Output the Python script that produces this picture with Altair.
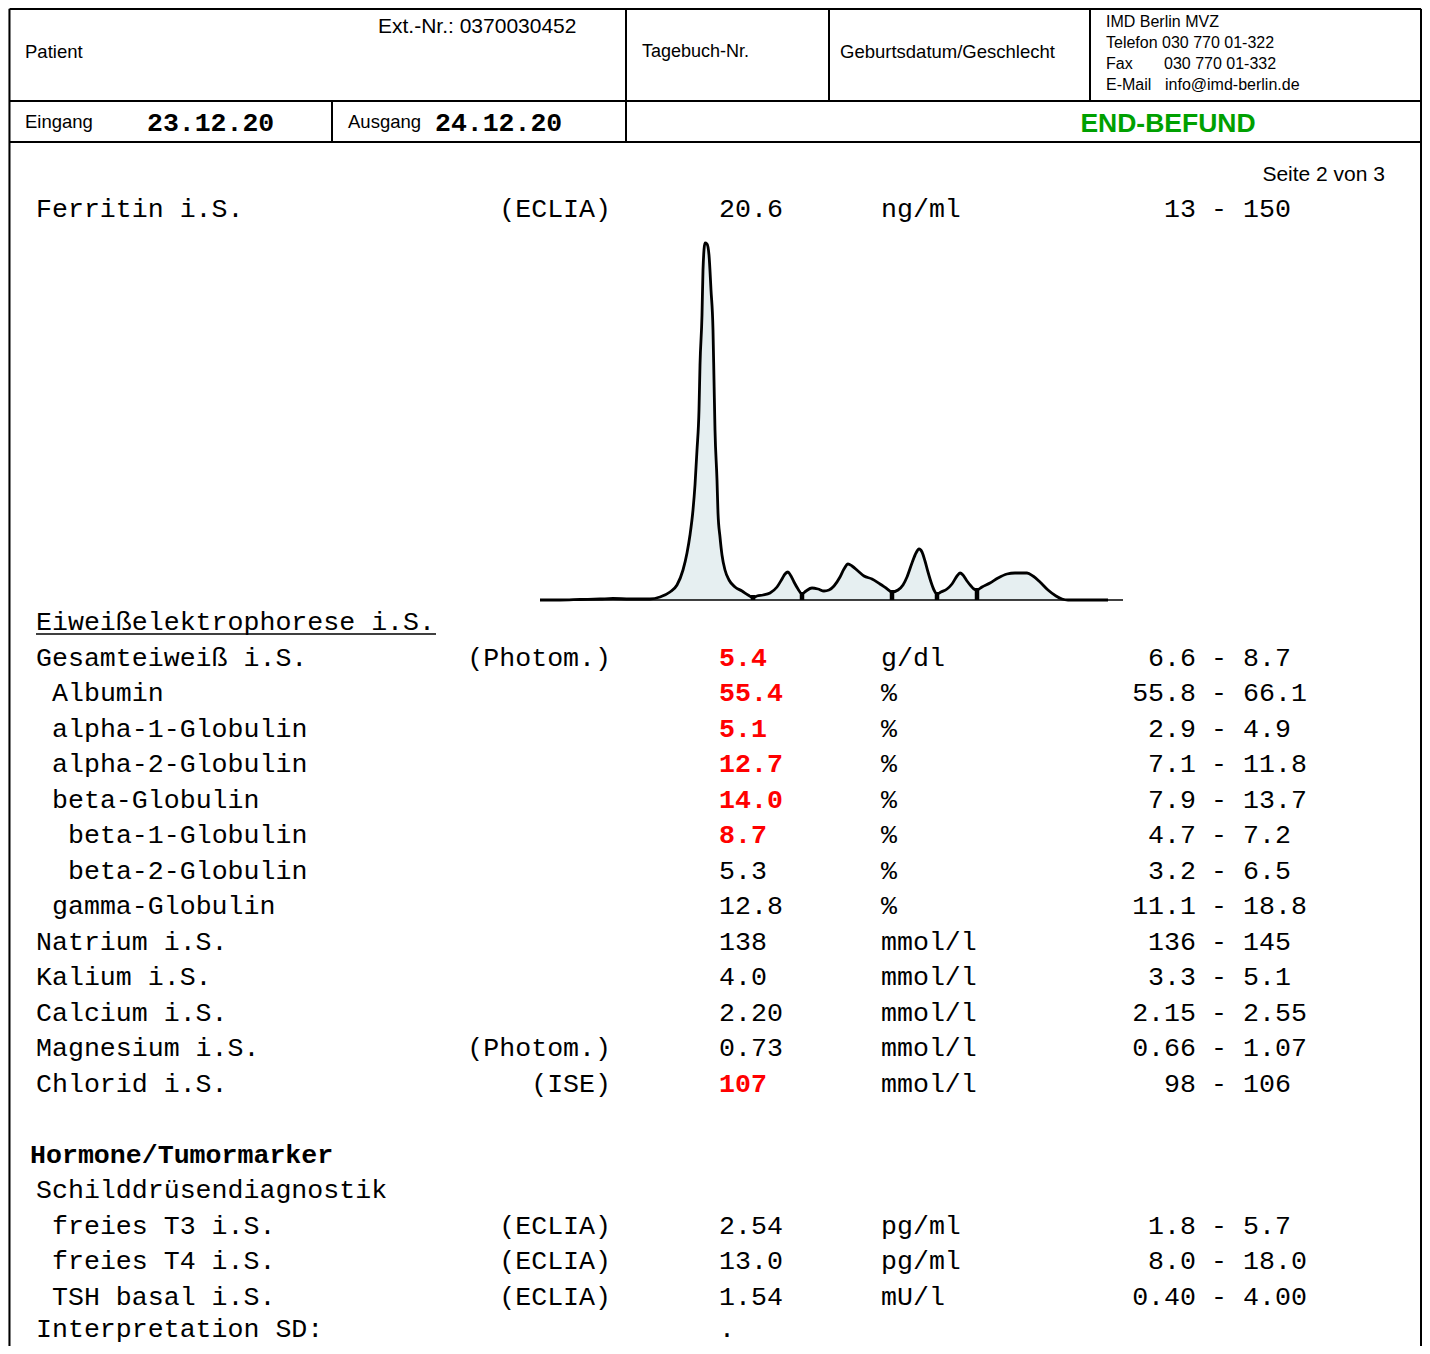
import altair as alt
import pandas as pd

# ------------------------------------------------------------------ data
header_labels = ["Patient", "Ext.-Nr.: 0370030452", "Tagebuch-Nr.", "Geburtsdatum/Geschlecht"]
lab_labels = ["IMD Berlin MVZ", "Telefon 030 770 01-322", "Fax", "030 770 01-332",
              "E-Mail", "info@imd-berlin.de"]
date_labels = ["Eingang", "Ausgang"]
date_values = ["23.12.20", "24.12.20"]
status_label = "END-BEFUND"
page_label = "Seite 2 von 3"

ferritin = {"name": "Ferritin i.S.", "method": "(ECLIA)", "value": "20.6",
            "unit": "ng/ml", "lo": "13", "hi": "150", "flag": False}

section_title = "Eiweißelektrophorese i.S."
names = ["Gesamteiweiß i.S.", "Albumin", "alpha-1-Globulin", "alpha-2-Globulin",
         "beta-Globulin", "beta-1-Globulin", "beta-2-Globulin", "gamma-Globulin",
         "Natrium i.S.", "Kalium i.S.", "Calcium i.S.", "Magnesium i.S.", "Chlorid i.S.",
         "Schilddrüsendiagnostik", "freies T3 i.S.", "freies T4 i.S.", "TSH basal i.S.",
         "Interpretation SD:"]
levels = [0, 1, 1, 1, 1, 2, 2, 1, 0, 0, 0, 0, 0, 0, 1, 1, 1, 0]
methods = ["(Photom.)", "", "", "", "", "", "", "", "", "", "", "(Photom.)", "(ISE)",
           "", "(ECLIA)", "(ECLIA)", "(ECLIA)", ""]
values = ["5.4", "55.4", "5.1", "12.7", "14.0", "8.7", "5.3", "12.8", "138", "4.0",
          "2.20", "0.73", "107", "", "2.54", "13.0", "1.54", "."]
units = ["g/dl", "%", "%", "%", "%", "%", "%", "%", "mmol/l", "mmol/l", "mmol/l",
         "mmol/l", "mmol/l", "", "pg/ml", "pg/ml", "mU/l", ""]
ref_lo = ["6.6", "55.8", "2.9", "7.1", "7.9", "4.7", "3.2", "11.1", "136", "3.3",
          "2.15", "0.66", "98", "", "1.8", "8.0", "0.40", ""]
ref_hi = ["8.7", "66.1", "4.9", "11.8", "13.7", "7.2", "6.5", "18.8", "145", "5.1",
          "2.55", "1.07", "106", "", "5.7", "18.0", "4.00", ""]
flags = [True, True, True, True, True, True, False, False, False, False, False,
         False, True, False, False, False, False, False]
group_title = "Hormone/Tumormarker"

# electrophoresis densitogram: migration position (px from start) and height
curve_pos = [0, 20, 40, 60, 73, 90, 110, 120, 130, 137, 143, 147, 150, 153, 155, 157,
             159, 160, 162, 163, 165, 167, 169, 171, 173, 174, 175, 177, 178, 180, 182,
             185, 189, 195, 202, 208, 213, 217, 223, 230, 237, 242, 245, 248, 251, 254,
             258, 262, 266, 272, 278, 284, 289, 294, 300, 304, 308, 312, 318, 324, 332,
             340, 346, 352, 358, 363, 367, 372, 376, 379, 382, 385, 388, 391, 394, 397,
             401, 407, 412, 417, 420, 423, 427, 431, 434, 437, 442, 450, 458, 467, 475,
             487, 493, 500, 508, 516, 522, 528, 550, 568]
curve_h = [0, 0, 0.5, 1, 1.5, 1, 1, 3, 8, 15, 30, 47, 65, 90, 115, 150, 190, 235, 285,
           330, 357, 356, 345, 310, 270, 220, 170, 120, 87, 63, 45, 30, 20, 13, 9, 5,
           2.5, 4, 5, 7, 13, 21, 26, 28, 24, 18, 11, 6, 9, 12, 11, 9, 10, 14, 23, 31,
           36, 34, 29, 24, 21, 16, 12, 8, 10, 15, 23, 37, 47, 51, 48, 39, 28, 18, 10,
           6, 8, 11, 16, 24, 27, 25, 19, 14, 11, 10, 13, 17, 22, 26, 27, 27, 24, 18,
           10, 4, 1, 0, 0, 0]
sep_pos = [213, 262, 352, 397, 437]
sep_h = [3, 6, 8, 6, 10]

# ------------------------------------------------------------------ layout
W, H = 1414, 1338
XS = alt.Scale(domain=[8, 8 + W], nice=False, zero=False)
YS = alt.Scale(domain=[8, 8 + H], nice=False, zero=False, reverse=True)
MONO = "Liberation Mono"
SANS = "Liberation Sans"
CHAR = 16
X_NAME, X_METHOD_R, X_VALUE, X_UNIT = 36, 611, 719, 881
X_LO_R, X_DASH, X_HI = 1196, 1219, 1243
ROW0_Y, ROW_DY = 622, 35.5
FERR_Y = 209
Y_MAX = 1329
row_index = list(range(1, 14)) + list(range(16, 21))

X = lambda f="x": alt.X(f"{f}:Q", scale=XS, axis=None)
Y = lambda f="y": alt.Y(f"{f}:Q", scale=YS, axis=None)


def texts(df, font, weight="normal", color="black", align="left", size=26.6):
    return alt.Chart(df).mark_text(font=font, fontWeight=weight, color=color, align=align,
                                   baseline="middle", fontSize=size).encode(
        x=X(), y=Y(), text="t:N")


def sized_texts(df, font, weight="normal", color="black", align="left"):
    return alt.Chart(df).mark_text(font=font, fontWeight=weight, color=color, align=align,
                                   baseline="middle").encode(
        x=X(), y=Y(), text="t:N", size=alt.Size("s:Q", scale=None, legend=None))


# header text
hdr = pd.DataFrame({
    "t": header_labels + lab_labels + date_labels,
    "x": [25, 378, 642, 840, 1106, 1106, 1106, 1164, 1106, 1165, 25, 348],
    "y": [52, 27, 52, 52, 22, 43, 64, 64, 85, 85, 122, 122],
    "s": [18.5, 21, 18, 18.5, 16, 16, 16, 16, 16, 16, 18.5, 18.5],
})
dates = pd.DataFrame({"t": date_values, "x": [147, 435], "y": [123, 123]})
status = pd.DataFrame({"t": [status_label], "x": [1168], "y": [124]})
page = pd.DataFrame({"t": [page_label], "x": [1385], "y": [175]})

# table rows
all_names = [ferritin["name"]] + names
all_levels = [0] + levels
all_methods = [ferritin["method"]] + methods
all_values = [ferritin["value"]] + values
all_units = [ferritin["unit"]] + units
all_lo = [ferritin["lo"]] + ref_lo
all_hi = [ferritin["hi"]] + ref_hi
all_flags = [ferritin["flag"]] + flags
all_y = [FERR_Y] + [min(ROW0_Y + i * ROW_DY, Y_MAX) for i in row_index]

rows = pd.DataFrame({"name": all_names, "lvl": all_levels, "method": all_methods,
                     "value": all_values, "unit": all_units, "lo": all_lo,
                     "hi": all_hi, "flag": all_flags, "y": all_y})

name_df = pd.DataFrame({"t": rows["name"], "x": X_NAME + CHAR * rows["lvl"], "y": rows["y"]})
m = rows[rows["method"] != ""]
method_df = pd.DataFrame({"t": m["method"], "x": X_METHOD_R, "y": m["y"]})
v = rows[rows["value"] != ""]
val_norm = pd.DataFrame({"t": v[~v["flag"]]["value"], "x": X_VALUE, "y": v[~v["flag"]]["y"]})
val_flag = pd.DataFrame({"t": v[v["flag"]]["value"], "x": X_VALUE, "y": v[v["flag"]]["y"]})
u = rows[rows["unit"] != ""]
unit_df = pd.DataFrame({"t": u["unit"], "x": X_UNIT, "y": u["y"]})
r = rows[rows["lo"] != ""]
lo_df = pd.DataFrame({"t": r["lo"], "x": X_LO_R, "y": r["y"]})
dash_df = pd.DataFrame({"t": "-", "x": X_DASH, "y": r["y"]})
hi_df = pd.DataFrame({"t": r["hi"], "x": X_HI, "y": r["y"]})
sect_df = pd.DataFrame({"t": [section_title], "x": [X_NAME], "y": [ROW0_Y]})
grp_df = pd.DataFrame({"t": [group_title], "x": [30], "y": [ROW0_Y + 15 * ROW_DY]})

# frame lines
L, R, T, B = 9.5, 1421, 9, 8 + H
frame = pd.DataFrame({
    "x": [L, L, R, L, L, 626, 829, 1090, 332, X_NAME],
    "x2": [R, L, R, R, R, 626, 829, 1090, 332, 436],
    "y": [T, T, T, 101, 142, T, T, T, 101, 634],
    "y2": [T, B, B, 101, 142, 142, 101, 101, 142, 634],
    "w": [2, 2, 2, 2, 2, 2, 2, 2, 2, 1.5],
})
frame_layer = alt.Chart(frame).mark_rule(color="black").encode(
    x=X(), x2="x2:Q", y=Y(), y2="y2:Q",
    strokeWidth=alt.StrokeWidth("w:Q", scale=None, legend=None))

# densitogram
BX, BY = 540, 600
cdf = pd.DataFrame({"pos": curve_pos, "h": curve_h})
cbase = alt.Chart(cdf).transform_calculate(px=f"{BX} + datum.pos", py=f"{BY} - datum.h")
area = cbase.mark_area(color="#e6eff1", interpolate="monotone").encode(
    x=X("px"), y=Y("py"), y2=alt.datum(BY))
line = cbase.mark_line(color="black", strokeWidth=2.8, interpolate="monotone").encode(
    x=X("px"), y=Y("py"))
axis_df = pd.DataFrame({"x": [BX], "x2": [BX + 583], "y": [BY]})
axis_line = alt.Chart(axis_df).mark_rule(color="black", strokeWidth=1.5).encode(
    x=X(), x2="x2:Q", y=Y())
sdf = pd.DataFrame({"pos": sep_pos, "h": sep_h})
seps = alt.Chart(sdf).transform_calculate(
    px=f"{BX} + datum.pos", py=f"{BY} - datum.h - 2").mark_rule(
    color="black", strokeWidth=4.5).encode(x=X("px"), y=Y("py"), y2=alt.datum(BY))

chart = alt.layer(
    area, line, axis_line, seps, frame_layer,
    sized_texts(hdr, SANS),
    texts(dates, MONO, weight="bold", size=26.5),
    texts(status, SANS, weight="bold", color="#00a000", align="center", size=26.5),
    texts(page, SANS, align="right", size=21),
    texts(sect_df, MONO),
    texts(grp_df, MONO, weight="bold"),
    texts(name_df, MONO),
    texts(method_df, MONO, align="right"),
    texts(val_norm, MONO),
    texts(val_flag, MONO, weight="bold", color="#ff0000"),
    texts(unit_df, MONO),
    texts(lo_df, MONO, align="right"),
    texts(dash_df, MONO, align="center"),
    texts(hi_df, MONO),
).properties(
    width=W, height=H, padding=0, autosize=alt.AutoSizeParams(type="none")
).configure_view(stroke=None).configure(background="white")

chart.save("out.html", embed_options={"renderer": "svg", "actions": False})
